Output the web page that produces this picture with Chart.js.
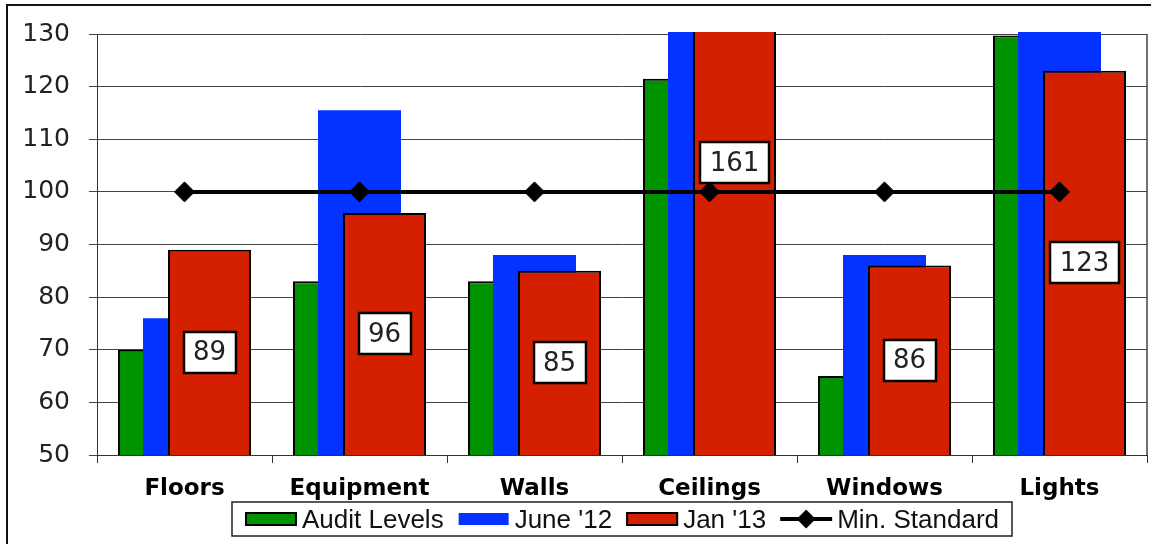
<!DOCTYPE html>
<html>
<head>
<meta charset="utf-8">
<script src="https://cdn.jsdelivr.net/npm/chart.js@4.4.1/dist/chart.umd.min.js"></script>
<style>
  html, body { margin: 0; padding: 0; background: #fff; }
  canvas { display: block; }
</style>
</head>
<body>
<canvas id="chart" width="1151" height="544"></canvas>
<script>
// Cleaning audit scores by area
const categories = ['Floors', 'Equipment', 'Walls', 'Ceilings', 'Windows', 'Lights'];
const auditLevels = [70, 83, 83, 121.5, 65, 129.7];
const june12 = [76, 115.5, 88, 150, 88, 140];
const jan13 = [89, 96, 85, 161, 86, 123];
const minStandard = [100, 100, 100, 100, 100, 100];
const seriesNames = ['Audit Levels', "June '12", "Jan '13", 'Min. Standard'];
const yMin = 50, yMax = 130, yStep = 10;

const GREEN = '#009300';
const BLUE = '#0433FF';
const RED = '#D52000';

// Draw order: green, blue, red, then value boxes, then the standard line on top
function drawValueBoxes(chart, dsIndex) {
  const ctx = chart.ctx;
  const meta = chart.getDatasetMeta(dsIndex);
  const yScale = chart.scales.y;
  const values = chart.data.datasets[dsIndex].data;
  ctx.save();
  ctx.font = '26px "DejaVu Sans"';
  ctx.textAlign = 'center';
  ctx.textBaseline = 'middle';
  meta.data.forEach((bar, i) => {
    const v = values[i];
    const cy = yScale.getPixelForValue((yScale.min + v) / 2);
    const text = String(v);
    const w = Math.round(ctx.measureText(text).width + 19);
    const h = 41;
    const x0 = Math.round(bar.x - w / 2), y0 = Math.round(cy - h / 2);
    ctx.fillStyle = '#fff';
    ctx.fillRect(x0, y0, w, h);
    ctx.lineWidth = 2.5;
    ctx.strokeStyle = '#000';
    ctx.strokeRect(x0, y0, w, h);
    ctx.fillStyle = '#222';
    ctx.fillText(text, bar.x, cy + 1);
  });
  ctx.restore();
}

function drawLegend(chart) {
  const ctx = chart.ctx;
  const a = chart.chartArea;
  const iconW = 52, gap = 5, itemGap = 14, pad = 13;
  ctx.save();
  ctx.font = '26px "Liberation Sans"';
  const items = chart.data.datasets.map(ds => ({ ds, w: iconW + gap + ctx.measureText(ds.label).width }));
  const total = items.reduce((s, it) => s + it.w, 0) + itemGap * (items.length - 1) + 2 * pad;
  const left = Math.round((a.left + a.right) / 2 - total / 2);
  const top = chart.height - 42, h = 34, cy = top + h / 2;
  ctx.lineWidth = 1.5;
  ctx.strokeStyle = '#222';
  ctx.strokeRect(left, top, Math.round(total), h);
  let x = left + pad;
  items.forEach(it => {
    const ds = it.ds;
    if (ds.type === 'line') {
      ctx.strokeStyle = ds.borderColor;
      ctx.lineWidth = 4;
      ctx.beginPath();
      ctx.moveTo(x, cy);
      ctx.lineTo(x + iconW, cy);
      ctx.stroke();
      const r = 9.5, mx = x + iconW / 2;
      ctx.fillStyle = ds.pointBackgroundColor;
      ctx.beginPath();
      ctx.moveTo(mx - r, cy); ctx.lineTo(mx, cy - r); ctx.lineTo(mx + r, cy); ctx.lineTo(mx, cy + r);
      ctx.closePath();
      ctx.fill();
    } else if (ds.borderWidth) {
      ctx.fillStyle = ds.backgroundColor;
      ctx.fillRect(x, cy - 7, iconW, 14);
      ctx.lineWidth = 2;
      ctx.strokeStyle = ds.borderColor;
      ctx.strokeRect(x + 1, cy - 6, iconW - 2, 12);
    } else {
      ctx.fillStyle = ds.backgroundColor;
      ctx.fillRect(x + 1, cy - 6, iconW - 2, 12);
    }
    ctx.fillStyle = '#111';
    ctx.textAlign = 'left';
    ctx.textBaseline = 'alphabetic';
    ctx.fillText(ds.label, x + iconW + gap, cy + 9);
    x += it.w + itemGap;
  });
  ctx.restore();
}

const layeredDraw = {
  id: 'layeredDraw',
  beforeDraw(chart) {
    const ctx = chart.ctx;
    ctx.save();
    ctx.fillStyle = '#fff';
    ctx.fillRect(0, 0, chart.width, chart.height);
    ctx.strokeStyle = '#111';
    ctx.lineWidth = 2;
    ctx.strokeRect(7, 5, chart.width + 20, chart.height + 20);
    ctx.restore();
  },
  beforeDatasetsDraw(chart) {
    const ctx = chart.ctx;
    const a = chart.chartArea;
    // right edge of the plot frame
    ctx.save();
    ctx.strokeStyle = '#444';
    ctx.lineWidth = 1.5;
    ctx.beginPath();
    ctx.moveTo(a.right, a.top);
    ctx.lineTo(a.right, a.bottom);
    ctx.stroke();
    ctx.restore();

    ctx.save();
    ctx.beginPath();
    ctx.rect(a.left, a.top - 2, a.right - a.left, a.bottom - a.top + 2);
    ctx.clip();
    [0, 1, 2].forEach(i => chart.getDatasetMeta(i).controller.draw());
    ctx.restore();

    drawValueBoxes(chart, 2);

    ctx.save();
    ctx.beginPath();
    ctx.rect(a.left, a.top - 12, a.right - a.left, a.bottom - a.top + 24);
    ctx.clip();
    chart.getDatasetMeta(3).controller.draw();
    ctx.restore();
    return false;
  },
  afterDraw(chart) {
    drawLegend(chart);
  }
};

new Chart(document.getElementById('chart'), {
  data: {
    labels: categories,
    datasets: [
      { type: 'bar', label: seriesNames[0], data: auditLevels, backgroundColor: GREEN, borderColor: '#000', borderWidth: 2 },
      { type: 'bar', label: seriesNames[1], data: june12, backgroundColor: BLUE, borderWidth: 0 },
      { type: 'bar', label: seriesNames[2], data: jan13, backgroundColor: RED, borderColor: '#000', borderWidth: 2 },
      { type: 'line', label: seriesNames[3], data: minStandard, borderColor: '#000', borderWidth: 4,
        pointStyle: 'rectRot', pointRadius: 10, pointBackgroundColor: '#000', pointBorderColor: '#000',
        pointBorderWidth: 1, fill: false, tension: 0 }
    ]
  },
  options: {
    responsive: false,
    animation: false,
    devicePixelRatio: 1,
    events: [],
    layout: { autoPadding: false, padding: { top: 32, right: 4, bottom: 44, left: 0 } },
    plugins: { legend: { display: false }, tooltip: { enabled: false } },
    datasets: { bar: { categoryPercentage: 0.4286, barPercentage: 3.32 } },
    scales: {
      x: {
        grid: { offset: true, drawOnChartArea: false, color: '#333', tickLength: 8 },
        border: { color: '#333' },
        ticks: { font: { family: 'DejaVu Sans', size: 23, weight: 'bold' }, color: '#000', padding: 12, maxRotation: 0, autoSkip: false },
        afterFit: s => { s.height = 45; }
      },
      y: {
        min: yMin, max: yMax,
        ticks: { stepSize: yStep, font: { family: 'DejaVu Sans', size: 25 }, color: '#222', padding: 19 },
        grid: { color: '#444', tickLength: 8 },
        border: { color: '#333' },
        afterFit: s => { s.width = 97; }
      }
    }
  },
  plugins: [layeredDraw]
});
</script>
</body>
</html>
